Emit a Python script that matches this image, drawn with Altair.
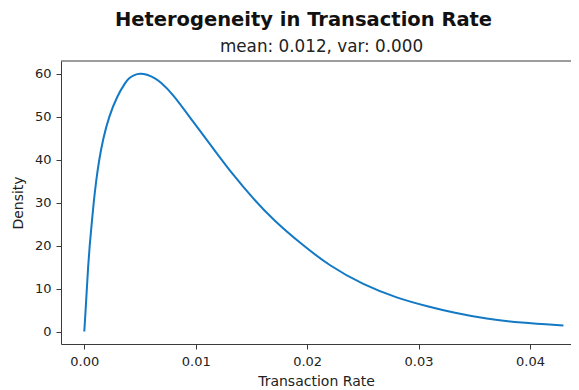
import altair as alt
import pandas as pd

# Values
rate = [0.0, 0.00012, 0.00023, 0.00034, 0.00048, 0.00066, 0.00084, 0.00106,
        0.00133, 0.0017, 0.0022, 0.00298, 0.00369, 0.0040, 0.0045, 0.0050,
        0.0056, 0.00635, 0.0068, 0.0079, 0.00978, 0.01158, 0.01337, 0.01517,
        0.01696, 0.01936, 0.02205, 0.02504, 0.02804, 0.03103, 0.03312,
        0.03612, 0.0391, 0.0430]
density = [0.0, 5.0, 10.0, 15.0, 20.0, 25.0, 30.0, 35.0,
           40.0, 45.0, 50.0, 55.0, 58.0, 59.0, 59.8, 60.1,
           59.9, 59.0, 58.2, 55.5, 48.8, 42.6, 36.4, 30.9,
           26.0, 20.6, 15.2, 10.9, 7.8, 5.7, 4.4, 2.9, 2.1, 1.4]
x_ticks = [0.0, 0.01, 0.02, 0.03, 0.04]
y_ticks = [0, 10, 20, 30, 40, 50, 60]
title_text = ["Heterogeneity in Transaction Rate"]
subtitle_text = ["mean: 0.012, var: 0.000"]

df = pd.DataFrame({"rate": rate, "density": density})

W, H = 510, 283
FONT = "DejaVu Sans"
SPINE = "#3a3a3a"

line = alt.Chart(df).mark_line(
    color="#1379c4", strokeWidth=2, interpolate="basis"
).encode(
    x=alt.X("rate:Q",
            scale=alt.Scale(domain=[-0.00209, 0.04368], nice=False, zero=False),
            axis=alt.Axis(values=x_ticks, format=".2f", title="Transaction Rate",
                          labelPadding=6, titlePadding=6)),
    y=alt.Y("density:Q",
            scale=alt.Scale(domain=[-2.9, 63.0], nice=False, zero=False),
            axis=alt.Axis(values=y_ticks, format="d", title="Density",
                          labelPadding=5, titlePadding=9)),
)

top_spine = alt.Chart(pd.DataFrame({"a": [0]})).mark_rule(
    color=SPINE, strokeWidth=1
).encode(x=alt.value(0), x2=alt.value(W), y=alt.value(0))

title_mark = alt.Chart(pd.DataFrame({"t": title_text})).mark_text(
    font=FONT, fontSize=19.5, fontWeight="bold", align="center",
    baseline="alphabetic", color="#111111"
).encode(text="t:N", x=alt.value(242.5), y=alt.value(-35.3))

subtitle_mark = alt.Chart(pd.DataFrame({"t": subtitle_text})).mark_text(
    font=FONT, fontSize=16.8, align="center", baseline="alphabetic",
    color="#222222"
).encode(text="t:N", x=alt.value(260.5), y=alt.value(-9.3))

chart = alt.layer(line, top_spine, title_mark, subtitle_mark).properties(
    width=W, height=H,
    padding={"left": 53, "top": 53, "right": 0, "bottom": 46},
    autosize=alt.AutoSizeParams(type="none"),
    background="white",
).configure_view(
    stroke=None
).configure_axis(
    grid=False,
    domainColor=SPINE, domainWidth=1,
    tickColor=SPINE, tickWidth=1, tickSize=5,
    labelFont=FONT, labelFontSize=13, labelColor="#222222",
    titleFont=FONT, titleFontSize=14, titleFontWeight="normal", titleColor="#222222",
    labelFlush=False, labelOverlap=False,
)

chart.save("out.html", embed_options={"renderer": "svg", "actions": False})
